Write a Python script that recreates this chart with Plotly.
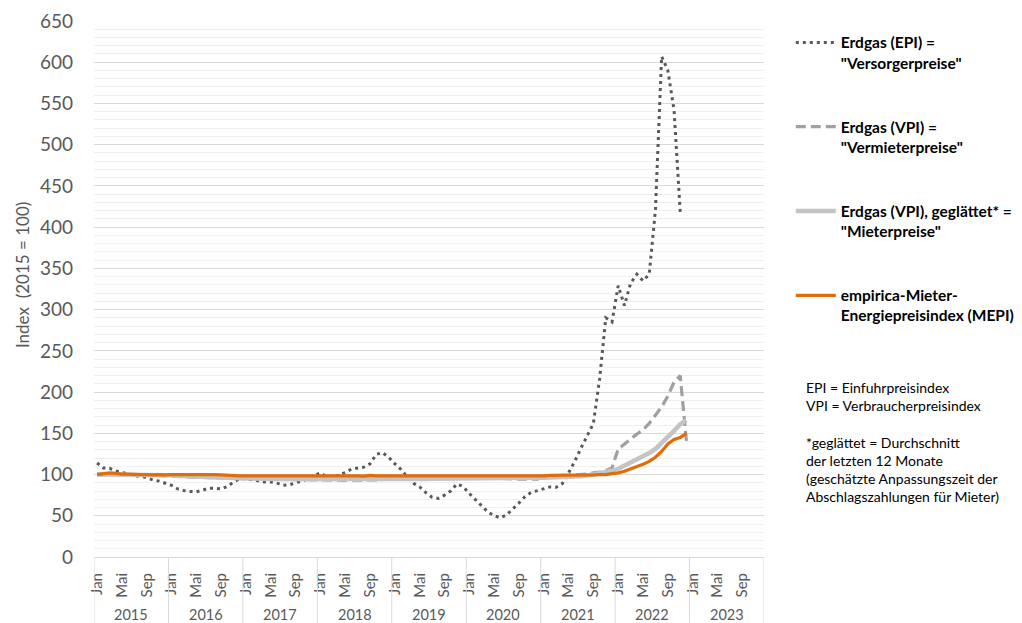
import plotly.graph_objects as go

# Monthly category axis: Jan 2015 .. Dez 2023
years = list(range(2015, 2024))
month_names = ["Jan", "Feb", "Mär", "Apr", "Mai", "Jun", "Jul", "Aug", "Sep", "Okt", "Nov", "Dez"]
categories = [f"{m} {y}" for y in years for m in month_names]
tick_months = ["Jan", "Mai", "Sep"]

# Erdgas (EPI) = "Versorgerpreise", Jan 2015 - Nov 2022
epi = [
    114, 108, 107.5, 104.5, 102.5, 101, 98.5, 98, 96, 93.5, 92, 89.5,      # 2015
    87, 82.5, 80.5, 79.5, 79, 81, 83.5, 83.5, 82.5, 85.5, 91, 95,          # 2016
    95, 93.5, 92, 91, 91, 89.5, 87, 87.5, 90, 92, 95, 99,                  # 2017
    102, 97, 97, 99.5, 102.5, 106.5, 108, 109, 113, 124.5, 126.5, 121,     # 2018
    113, 106, 97, 89.5, 85, 78, 72.5, 71, 75, 80, 88.5, 85.5,              # 2019
    77, 69.5, 61, 54.5, 50, 47.5, 51, 58, 65.5, 73.5, 78.5, 80.5,          # 2020
    83, 85, 84.5, 89, 102, 116, 132, 148, 162, 216, 290, 285,              # 2021
    329, 305, 332, 343, 335, 343, 421, 607, 590, 542, 418,                 # 2022
]

# Erdgas (VPI) = "Vermieterpreise", Jan 2015 - Dez 2022
vpi = [
    101, 101, 100.5, 100.5, 100, 100, 100, 99.5, 99.5, 99, 99, 98.5,
    98, 97.5, 97, 97, 96.5, 96.5, 96, 96, 96, 95.5, 95.5, 95,
    95, 94.5, 94.5, 94.5, 94, 94, 94, 94, 93.5, 93.5, 93.5, 93.5,
    93.5, 93.5, 93, 93, 93, 93, 93, 93, 93.5, 93.5, 94, 94.5,
    95, 95.5, 95.5, 96, 96, 96, 96, 96, 96, 96, 96, 96,
    96, 96, 96, 96, 96, 96, 95, 94.5, 94.5, 94.5, 94.5, 94.5,
    98, 98.5, 98.5, 99, 99, 99.5, 100, 100.5, 102, 103, 105, 108,
    131, 137, 144, 149, 154, 162, 172, 182, 195, 212, 220, 140,
]

# Erdgas (VPI), geglättet* = "Mieterpreise"
vpi_smooth = [
    100, 100, 100, 100, 100, 100, 100, 99.5, 99.5, 99.5, 99, 99,
    99, 98.5, 98, 98, 97.5, 97, 97, 96.5, 96, 96, 96, 95.5,
    95.5, 95, 95, 95, 94.5, 94.5, 94.5, 94, 94, 94, 94, 94,
    93.5, 93.5, 93.5, 93.5, 93.5, 93.5, 93.5, 93.5, 93.5, 93.5, 93.5, 93.5,
    93.5, 94, 94, 94, 94.5, 94.5, 95, 95, 95, 95.5, 95.5, 95.5,
    96, 96, 96, 96, 96, 96, 96, 95.5, 95.5, 95.5, 95.5, 95.5,
    96, 96.5, 96.5, 97, 97, 97.5, 98, 98.5, 100, 101.5, 102.5, 104.5,
    107, 110.5, 114.5, 118.5, 122, 126, 131, 138, 145, 153, 161, 166,
]

# empirica-Mieter-Energiepreisindex (MEPI)
mepi = [
    100, 101, 102, 101.5, 100.5, 100.5, 100, 100, 100, 99.5, 100, 99.5,
    100, 100, 100.5, 100.5, 100, 100.5, 100, 100, 99.5, 99, 98.5, 98.5,
    98.5, 98.5, 98.5, 98.5, 98.5, 98.5, 98.5, 98.5, 98.5, 98.5, 98.5, 98.5,
    98.5, 98.5, 98.5, 99, 98.5, 98.5, 98.5, 98, 99, 98.5, 98.5, 98,
    98.5, 98, 98.5, 98, 98.5, 98, 98, 98.5, 98, 98, 98, 98.5,
    98, 98, 98, 98.5, 98.5, 98.5, 98, 98.5, 98.5, 98, 98, 98.5,
    98.5, 99, 99, 99, 99.5, 99.5, 99.5, 99.5, 99.5, 100, 100, 101,
    102, 104, 106.5, 109.5, 112.5, 116, 121, 128, 137, 142.5, 145, 150,
]

series = [
    ('Erdgas (EPI) =<br>"Versorgerpreise"', epi, "#595959", 3, "3px,4px"),
    ('Erdgas (VPI) =<br>"Vermieterpreise"', vpi, "#A0A0A0", 3.2, "10px,5px"),
    ('Erdgas (VPI), geglättet* =<br>"Mieterpreise"', vpi_smooth, "#C4C4C4", 4.5, "solid"),
    ('empirica-Mieter-<br>Energiepreisindex (MEPI)', mepi, "#E36C0A", 3.2, "solid"),
]

FONT = "Lato, 'Open Sans', sans-serif"
AXIS_GREY = "#595959"

fig = go.Figure()
for i, (name, values, color, width, dash) in enumerate(series):
    fig.add_trace(go.Scatter(
        x=categories[:len(values)],
        y=values,
        mode="lines",
        name=name,
        legendgroup=f"g{i}",
        line=dict(color=color, width=width, dash=dash),
        hoverinfo="skip",
    ))

# year separators below the axis and year captions
n_months = len(month_names)
shapes = []
annotations = []
for k, y in enumerate(years + [None]):
    shapes.append(dict(
        type="line", xref="x", yref="paper",
        x0=k * n_months - 0.5, x1=k * n_months - 0.5, y0=0, y1=-0.125,
        line=dict(color="#D9D9D9", width=1),
    ))
    if y is not None:
        annotations.append(dict(
            xref="x", yref="paper", x=k * n_months + 5.5, y=-0.108,
            text=str(y), showarrow=False, yanchor="middle",
            font=dict(family=FONT, size=14.5, color=AXIS_GREY),
        ))

# y-axis caption
annotations.append(dict(
    xref="paper", yref="paper", x=-0.1075, y=0.526, textangle=-90,
    xanchor="center", yanchor="middle", showarrow=False,
    text="Index\u00a0 (2015 = 100)",
    font=dict(family=FONT, size=17, color=AXIS_GREY),
))

# explanatory notes
annotations.append(dict(
    xref="paper", yref="paper", x=1.059, y=0.336, xanchor="left", yanchor="top",
    align="left", showarrow=False,
    text=("EPI = Einfuhrpreisindex<br>VPI = Verbraucherpreisindex<br><br>"
          "*geglättet = Durchschnitt<br>der letzten 12 Monate<br>"
          "(geschätzte Anpassungszeit der<br>Abschlagszahlungen für Mieter)"),
    font=dict(family=FONT, size=14, color="#000000"),
))

tick_vals = [c for c in categories if c.split(" ")[0] in tick_months]
tick_text = [c.split(" ")[0] for c in tick_vals]

fig.update_layout(
    width=1022, height=623,
    margin=dict(l=94, r=258, t=21, b=66, autoexpand=False),
    paper_bgcolor="white", plot_bgcolor="white",
    font=dict(family=FONT, color=AXIS_GREY),
    showlegend=True,
    legend=dict(
        x=1.040, y=0.991, xanchor="left", yanchor="top",
        tracegroupgap=41, valign="top", itemwidth=40,
        font=dict(family=FONT, size=15.5, color="#000000", weight="bold"),
        bgcolor="rgba(0,0,0,0)",
    ),
    shapes=shapes,
    annotations=annotations,
    xaxis=dict(
        type="category", categoryorder="array", categoryarray=categories,
        range=[-0.5, len(categories) - 0.5],
        tickmode="array", tickvals=tick_vals, ticktext=tick_text,
        tickangle=-90, tickfont=dict(family=FONT, size=15, color=AXIS_GREY),
        ticks="", showgrid=False, showline=True, linecolor="#D9D9D9", linewidth=1,
        ticklabelstandoff=9, zeroline=False,
    ),
    yaxis=dict(
        range=[0, 650], dtick=50, tick0=0,
        tickfont=dict(family=FONT, size=19, color=AXIS_GREY),
        showgrid=True, gridcolor="#D9D9D9", gridwidth=1,
        minor=dict(dtick=10, showgrid=True, gridcolor="#F0F0F0", gridwidth=1),
        zeroline=False, ticks="", ticklabelstandoff=20,
    ),
)

fig.write_html("out.html")
